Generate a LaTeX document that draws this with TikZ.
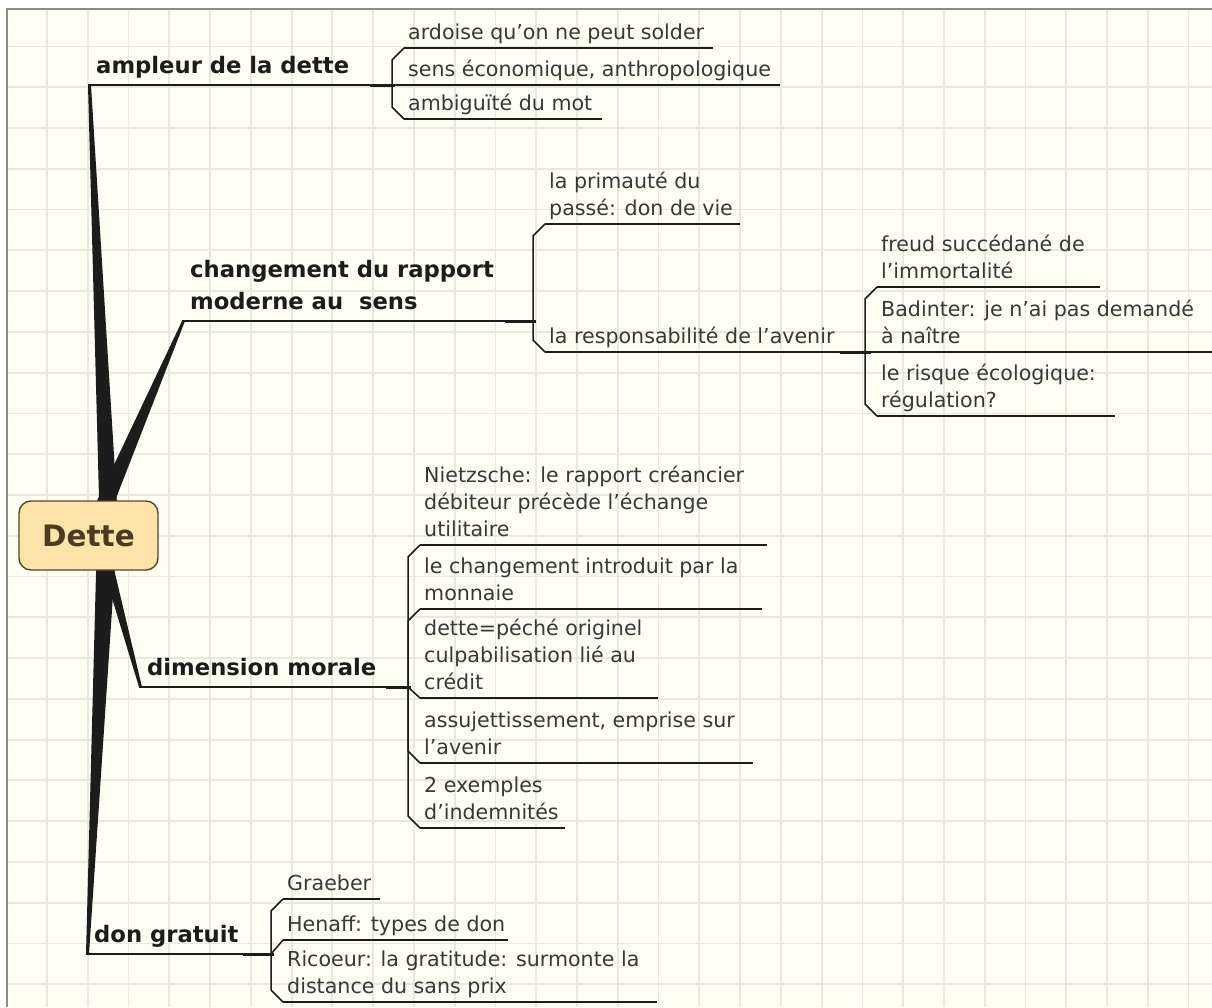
\documentclass[tikz,border=0pt]{standalone}
\usepackage{fontspec}
\setmainfont{DejaVu Sans}
\usetikzlibrary{calc}
\definecolor{paper}{HTML}{FEFEF3}
\definecolor{gridc}{HTML}{E8E8DF}
\definecolor{framec}{HTML}{8C8C84}
\definecolor{ink}{HTML}{1C1C1C}
\definecolor{subtxt}{HTML}{383838}
\definecolor{rootfill}{HTML}{FCE3A7}
\definecolor{rootdraw}{HTML}{54452E}
\definecolor{roottxt}{HTML}{4A3A22}
\newcommand\ulsub{\rule[-8pt]{0pt}{8pt}}
\newcommand\ulhead{\rule[-11.5pt]{0pt}{11.5pt}}
\begin{document}
\begin{tikzpicture}[x=1pt,y=-1pt,
  gridline/.style={draw=gridc,line width=1.8pt},
  trunk/.style={fill=ink},
  rootbox/.style={draw=rootdraw,line width=1.4pt,fill=rootfill,rounded corners=12pt,minimum width=139pt,minimum height=69pt,inner sep=0pt,font=\fontsize{29.5}{31}\selectfont\bfseries,text=roottxt},
  head/.style={anchor=south west,inner xsep=8pt,inner ysep=0pt,align=left,font=\fontsize{22.7}{32}\selectfont\bfseries,text=ink},
  sub/.style={anchor=south west,inner xsep=4pt,inner ysep=0pt,align=left,font=\fontsize{20.6}{27}\selectfont,text=subtxt},
  hline/.style={draw=ink,line width=2pt},
  uline/.style={draw=ink,line width=1.5pt},
  link/.style={draw=ink,line width=1.5pt},
  stub/.style={draw=ink,line width=3pt}
]
\useasboundingbox (0,0) rectangle (1212,1007);
% background and grid
\fill[white] (0,0) rectangle (1212,1007);
\fill[paper] (7,9) rectangle (1212,1007);
\foreach \i in {0,...,28} \draw[gridline] ({47+40.77*\i},9) -- ({47+40.77*\i},1007);
\foreach \j in {0,...,23} \draw[gridline] (7,{46.5+40.77*\j}) -- (1212,{46.5+40.77*\j});
\draw[draw=framec,line width=1.5pt] (7,1007) -- (7,9) -- (1212,9);

% junction coordinates
\coordinate (rootc) at (88.5,535.5);
\coordinate (Jamp) at (392,85);
\coordinate (Jchg) at (533,321);
\coordinate (Jres) at (865,352);
\coordinate (Jdim) at (408,687);
\coordinate (Jdon) at (271,954);

% main topics
\node[head] (amp) at (88,85) {ampleur de la dette\ulhead};
\node[head] (chg) at (182,321) {changement du rapport\\moderne au\ \ sens\ulhead};
\node[head] (dim) at (139,687) {dimension morale\ulhead};
\node[head] (don) at (86,954) {don gratuit\ulhead};

% subtopics
\node[sub] (a1) at (404,48) {ardoise qu'on ne peut solder\ulsub};
\node[sub] (a2) at (404,85) {sens économique, anthropologique\ulsub};
\node[sub] (a3) at (404,119) {ambiguïté du mot\ulsub};

\node[sub] (c1) at (545,224) {la primauté du\\passé: don de vie\ulsub};
\node[sub] (c2) at (545,352) {la responsabilité de l'avenir\ulsub};

\node[sub] (r1) at (877,287) {freud succédané de\\l'immortalité\ulsub};
\node[sub] (r2) at (877,352) {Badinter: je n'ai pas demandé\\à naître\ulsub};
\node[sub] (r3) at (877,416) {le risque écologique:\\régulation?\ulsub};

\node[sub] (d1) at (420,545) {Nietzsche: le rapport créancier\\débiteur précède l'échange\\utilitaire\ulsub};
\node[sub] (d2) at (420,609) {le changement introduit par la\\monnaie\ulsub};
\node[sub] (d3) at (420,698) {dette=péché originel\\culpabilisation lié au\\crédit\ulsub};
\node[sub] (d4) at (420,763) {assujettissement, emprise sur\\l'avenir\ulsub};
\node[sub] (d5) at (420,828) {2 exemples\\d'indemnités\ulsub};

\node[sub] (g1) at (283,899) {Graeber\ulsub};
\node[sub] (g2) at (283,940) {Henaff: types de don\ulsub};
\node[sub] (g3) at (283,1002) {Ricoeur: la gratitude: surmonte la\\distance du sans prix\ulsub};

% tapered trunk branches
\fill[trunk] (amp.south west) -- ([xshift=3pt]amp.south west) -- ($(rootc)+(30.5,0)$) -- ($(rootc)+(11.5,0)$) -- cycle;
\fill[trunk] (chg.south west) -- ([xshift=3pt]chg.south west) -- ($(rootc)+(13,0)$) -- ($(rootc)+(-7.9,0)$) -- cycle;
\fill[trunk] (dim.south west) -- ([xshift=3pt]dim.south west) -- ($(rootc)+(17.5,0)$) -- ($(rootc)+(4.5,0)$) -- cycle;
\fill[trunk] (don.south west) -- ([xshift=3pt]don.south west) -- ($(rootc)+(28.5,0)$) -- ($(rootc)+(8.5,0)$) -- cycle;

% central topic
\node[rootbox] (root) at (rootc) {Dette};

% main topic underlines
\draw[hline] (amp.south west) -- (Jamp);
\draw[hline] (chg.south west) -- (Jchg);
\draw[hline] (dim.south west) -- (Jdim);
\draw[hline] (don.south west) -- (Jdon);
\draw[uline] (c2.south west) -- (Jres);

% thick stubs into brackets
\draw[stub] ([xshift=-22pt]Jamp) -- ([xshift=3pt]Jamp);
\draw[stub] ([xshift=-28pt]Jchg) -- ([xshift=3pt]Jchg);
\draw[stub] ([xshift=-25pt]Jres) -- ([xshift=6pt]Jres);
\draw[stub] ([xshift=-22pt]Jdim) -- ([xshift=3pt]Jdim);
\draw[stub] ([xshift=-28pt]Jdon) -- ([xshift=3pt]Jdon);

% subtopic underlines
\draw[uline] (a1.south west) -- ++(309,0);
\draw[uline] (a2.south west) -- ++(376,0);
\draw[uline] (a3.south west) -- ++(198,0);
\draw[uline] (c1.south west) -- ++(195,0);
\draw[uline] (r1.south west) -- ++(223,0);
\draw[uline] (r2.south west) -- ++(335,0);
\draw[uline] (r3.south west) -- ++(238,0);
\draw[uline] (d1.south west) -- ++(347,0);
\draw[uline] (d2.south west) -- ++(342,0);
\draw[uline] (d3.south west) -- ++(238,0);
\draw[uline] (d4.south west) -- ++(333,0);
\draw[uline] (d5.south west) -- ++(145,0);
\draw[uline] (g1.south west) -- ++(97,0);
\draw[uline] (g2.south west) -- ++(225,0);
\draw[uline] (g3.south west) -- ++(374,0);

% bracket connectors
\draw[link] (Jamp) -- ([xshift=-12pt,yshift=-12pt]a1.south west) -- (a1.south west);
\draw[link] (Jamp) -- (a2.south west);
\draw[link] (Jamp) -- ([xshift=-12pt,yshift=12pt]a3.south west) -- (a3.south west);

\draw[link] (Jchg) -- ([xshift=-12pt,yshift=-12pt]c1.south west) -- (c1.south west);
\draw[link] (Jchg) -- ([xshift=-12pt,yshift=12pt]c2.south west) -- (c2.south west);

\draw[link] (Jres) -- ([xshift=-12pt,yshift=-12pt]r1.south west) -- (r1.south west);
\draw[link] (Jres) -- (r2.south west);
\draw[link] (Jres) -- ([xshift=-12pt,yshift=12pt]r3.south west) -- (r3.south west);

\draw[link] (Jdim) -- ([xshift=-12pt,yshift=-12pt]d1.south west) -- (d1.south west);
\draw[link] (Jdim) -- ([xshift=-12pt,yshift=-12pt]d2.south west) -- (d2.south west);
\draw[link] (Jdim) -- (d3.south west);
\draw[link] (Jdim) -- ([xshift=-12pt,yshift=12pt]d4.south west) -- (d4.south west);
\draw[link] (Jdim) -- ([xshift=-12pt,yshift=12pt]d5.south west) -- (d5.south west);

\draw[link] (Jdon) -- ([xshift=-12pt,yshift=-12pt]g1.south west) -- (g1.south west);
\draw[link] (Jdon) -- (g2.south west);
\draw[link] (Jdon) -- ([xshift=-12pt,yshift=12pt]g3.south west) -- (g3.south west);
\end{tikzpicture}
\end{document}
